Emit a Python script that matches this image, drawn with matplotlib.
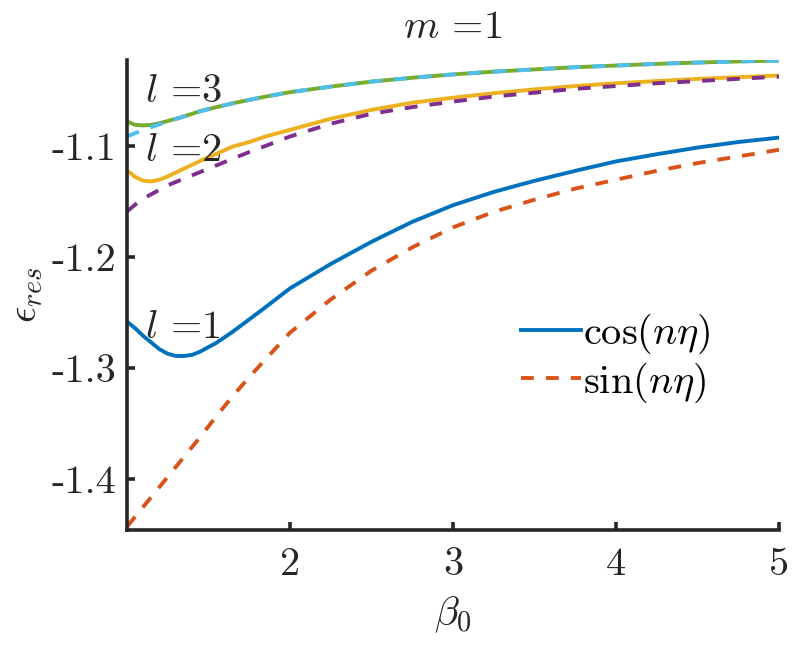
import matplotlib
matplotlib.use("Agg")
import matplotlib.pyplot as plt

plt.rcParams['mathtext.fontset'] = 'cm'
plt.rcParams['font.family'] = 'cmr10'
plt.rcParams['axes.unicode_minus'] = False
plt.rcParams['axes.formatter.use_mathtext'] = True

# sampled beta_0 values
beta0 = [1.0, 1.05, 1.1, 1.15, 1.2, 1.25, 1.3, 1.35, 1.4, 1.45, 1.55, 1.65, 1.75,
         1.85, 2.0, 2.25, 2.5, 2.75, 3.0, 3.25, 3.5, 3.75, 4.0, 4.25, 4.5, 4.75, 5.0]

# l = 1
cos_l1 = [-1.258, -1.264, -1.271, -1.277, -1.283, -1.287, -1.289, -1.289, -1.288,
          -1.285, -1.277, -1.267, -1.256, -1.245, -1.228, -1.206, -1.186, -1.168,
          -1.153, -1.141, -1.131, -1.122, -1.1135, -1.107, -1.101, -1.096, -1.092]
sin_l1 = [-1.443, -1.434, -1.425, -1.416, -1.407, -1.398, -1.389, -1.380, -1.371,
          -1.362, -1.343, -1.325, -1.308, -1.292, -1.268, -1.238, -1.212, -1.191,
          -1.173, -1.159, -1.148, -1.138, -1.130, -1.122, -1.115, -1.109, -1.103]
# l = 2
cos_l2 = [-1.1216, -1.1275, -1.131, -1.1315, -1.130, -1.127, -1.1235, -1.120,
          -1.1165, -1.113, -1.1065, -1.100, -1.096, -1.091, -1.085, -1.075, -1.067,
          -1.0605, -1.056, -1.052, -1.0485, -1.0455, -1.043, -1.041, -1.039,
          -1.0375, -1.036]
sin_l2 = [-1.1586, -1.1525, -1.147, -1.143, -1.139, -1.135, -1.132, -1.129, -1.126,
          -1.123, -1.117, -1.111, -1.105, -1.0995, -1.091, -1.0795, -1.0705,
          -1.0645, -1.0595, -1.055, -1.0515, -1.048, -1.0455, -1.043, -1.041,
          -1.039, -1.037]
# l = 3
cos_l3 = [-1.0775, -1.0805, -1.081, -1.0805, -1.079, -1.077, -1.075, -1.0728,
          -1.0705, -1.068, -1.0645, -1.061, -1.058, -1.055, -1.051, -1.046,
          -1.0415, -1.038, -1.035, -1.0325, -1.0305, -1.0285, -1.027, -1.0255,
          -1.0243, -1.0233, -1.0225]
sin_l3 = [-1.091, -1.088, -1.085, -1.0825, -1.080, -1.0775, -1.0752, -1.073,
          -1.0707, -1.0683, -1.0645, -1.061, -1.058, -1.055, -1.051, -1.046,
          -1.0415, -1.038, -1.035, -1.0325, -1.0305, -1.0285, -1.027, -1.0255,
          -1.0243, -1.0233, -1.0225]

xticks = [2, 3, 4, 5]
yticks = [-1.4, -1.3, -1.2, -1.1]
ytick_labels = ['-1.4', '-1.3', '-1.2', '-1.1']

axcol = '#262626'
fs = 29
lw = 2.8
dash = (3.3, 3.1)

fig = plt.figure(figsize=(7.94, 6.48), dpi=100)
ax = fig.add_axes([127 / 794, 1 - 530 / 648, (779 - 127) / 794, (530 - 60) / 648])

ax.plot(beta0, cos_l1, color='#0072BD', lw=lw, label=r'$\cos(n\eta)$')
ax.plot(beta0, sin_l1, color='#D95319', lw=lw, dashes=dash, label=r'$\sin(n\eta)$')
ax.plot(beta0, cos_l2, color='#EDB120', lw=lw)
ax.plot(beta0, sin_l2, color='#7E2F8E', lw=lw, dashes=dash)
ax.plot(beta0, cos_l3, color='#77AC30', lw=lw)
ax.plot(beta0, sin_l3, color='#4DBEEE', lw=lw, dashes=dash)

ax.set_xlim(1, 5)
ax.set_ylim(-1.446, -1.022)
ax.set_xticks(xticks)
ax.set_xticklabels([str(t) for t in xticks])
ax.set_yticks(yticks)
ax.set_yticklabels(ytick_labels)

for s in ['top', 'right']:
    ax.spines[s].set_visible(False)
for s in ['left', 'bottom']:
    ax.spines[s].set_linewidth(2.6)
    ax.spines[s].set_color(axcol)
ax.tick_params(direction='in', length=6, width=2.6, colors=axcol, labelsize=fs)
ax.tick_params(axis='x', pad=12)
ax.tick_params(axis='y', pad=8)

ax.set_title(r'$m$ =1', fontsize=fs, color=axcol, pad=16)
ax.set_xlabel(r'$\beta_0$', fontsize=fs, color=axcol, labelpad=9)
ax.set_ylabel(r'$\epsilon_{res}$', fontsize=fs, color=axcol, labelpad=4)

ax.text(1.11, -1.051, r'$l$ =3', fontsize=fs, color=axcol, va='center')
ax.text(1.11, -1.1045, r'$l$ =2', fontsize=fs, color=axcol, va='center')
ax.text(1.11, -1.2635, r'$l$ =1', fontsize=fs, color=axcol, va='center')

ax.legend(loc='upper left', bbox_to_anchor=(521 / 794, 1 - 312 / 648),
          bbox_transform=fig.transFigure, frameon=False, fontsize=fs,
          handlelength=1.5, handletextpad=0.05, labelspacing=0.1,
          borderpad=0, borderaxespad=0)

fig.savefig('out.png', dpi=100)
